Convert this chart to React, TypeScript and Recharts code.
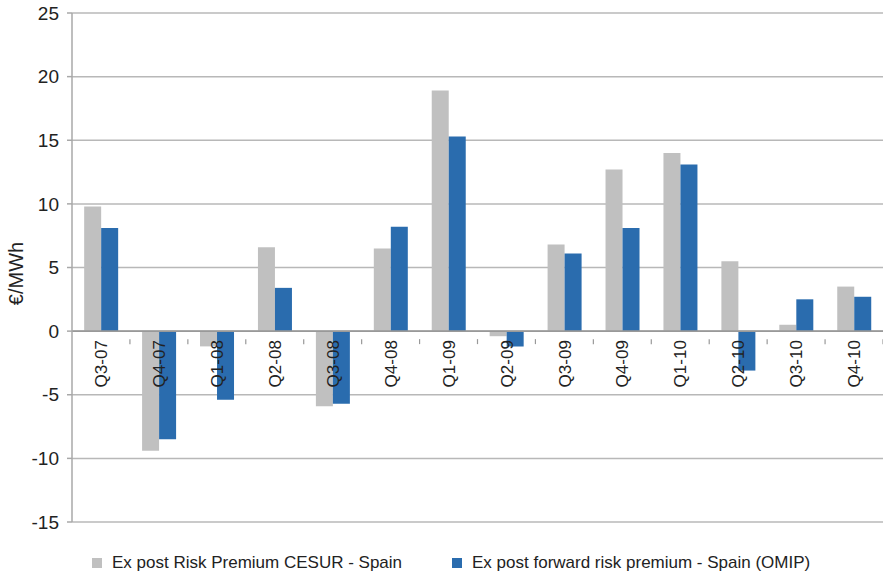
import {
  Bar,
  BarChart,
  CartesianGrid,
  LabelList,
  Legend,
  ReferenceLine,
  XAxis,
  YAxis
} from "recharts";

const quarters = [
  "Q3-07", "Q4-07", "Q1-08", "Q2-08", "Q3-08", "Q4-08", "Q1-09",
  "Q2-09", "Q3-09", "Q4-09", "Q1-10", "Q2-10", "Q3-10", "Q4-10"
];
const cesur = [9.8, -9.4, -1.2, 6.6, -5.9, 6.5, 18.9, -0.4, 6.8, 12.7, 14.0, 5.5, 0.5, 3.5];
const omip = [8.1, -8.5, -5.4, 3.4, -5.7, 8.2, 15.3, -1.2, 6.1, 8.1, 13.1, -3.1, 2.5, 2.7];
const yTicks = [-15, -10, -5, 0, 5, 10, 15, 20, 25];

const seriesNames = {
  cesur: "Ex post Risk Premium CESUR - Spain",
  omip: "Ex post forward risk premium - Spain (OMIP)"
};

const data = quarters.map((q, i) => ({ q, cesur: cesur[i], omip: omip[i] }));

const W = 883;
const H = 577;
const TOP = 13;
const BOTTOM = 55;
const LEFT = 72;
const PLOT_H = H - TOP - BOTTOM;
const PLOT_W = W - LEFT;
const Y_MIN = yTicks[0];
const Y_MAX = yTicks[yTicks.length - 1];
// distance from the bottom of the plot up to the zero line
const ZERO_UP = (PLOT_H * (0 - Y_MIN)) / (Y_MAX - Y_MIN);
const BAND = PLOT_W / quarters.length;

const FONT = "'Liberation Sans', Arial, Helvetica, sans-serif";
const GRAY = "#c0c0c0";
const BLUE = "#2a6cae";

// small tick marks under the zero line, between categories
function BoundaryTick(props: any) {
  const { x, y } = props;
  const zy = y - ZERO_UP;
  return (
    <line x1={x + BAND / 2} x2={x + BAND / 2} y1={zy} y2={zy + 5} stroke="#999" strokeWidth={1.2} />
  );
}

// quarter names, drawn over the bars just under the zero line
function QuarterLabel(props: any) {
  const { x, y, height, index, value } = props;
  const top = Math.min(y, y + height);
  const bottom = Math.max(y, y + height);
  const zy = omip[index] >= 0 ? bottom : top;
  const ty = zy + 9;
  return (
    <text
      x={x}
      y={ty}
      transform={`rotate(-90, ${x}, ${ty})`}
      textAnchor="end"
      dy="0.35em"
      fill="#222"
      fontSize={17}
      fontFamily={FONT}
    >
      {value}
    </text>
  );
}

function LegendBox() {
  const items = [
    { name: seriesNames.cesur, color: GRAY },
    { name: seriesNames.omip, color: BLUE }
  ];
  return (
    <div style={{ display: "flex", alignItems: "center", paddingLeft: 92, height: 20 }}>
      {items.map((it, i) => (
        <div key={i} style={{ display: "flex", alignItems: "center", marginRight: 50 }}>
          <span style={{ width: 10, height: 10, background: it.color, display: "inline-block", marginRight: 10 }} />
          <span style={{ fontSize: 17, fontFamily: FONT, color: "#222" }}>{it.name}</span>
        </div>
      ))}
    </div>
  );
}

export default function App() {
  return (
    <div style={{ position: "absolute", left: 0, top: 0, width: W, height: H, background: "#fff" }}>
      <BarChart
        width={W}
        height={H}
        data={data}
        margin={{ top: TOP, right: 0, left: 0, bottom: 4 }}
        barCategoryGap="21%"
        barGap={0}
      >
        <CartesianGrid vertical={false} stroke="#b8b8b8" strokeWidth={1.5} />
        <XAxis
          dataKey="q"
          height={31}
          axisLine={false}
          tickLine={false}
          interval={0}
          tick={<BoundaryTick />}
        />
        <YAxis
          width={LEFT}
          domain={[Y_MIN, Y_MAX]}
          ticks={yTicks}
          interval={0}
          stroke="#a8a8a8"
          strokeWidth={1.5}
          tickSize={5}
          tickMargin={8}
          tick={{ fill: "#222", fontSize: 19, fontFamily: FONT }}
          label={{
            value: "€/MWh",
            angle: -90,
            position: "center",
            dx: -20,
            dy: 6,
            style: { fill: "#222", fontSize: 20, fontFamily: FONT }
          }}
        />
        <ReferenceLine y={0} stroke="#999" strokeWidth={1.8} />
        <Legend verticalAlign="bottom" content={() => <LegendBox />} />
        <Bar dataKey="cesur" name={seriesNames.cesur} fill={GRAY} isAnimationActive={false} />
        <Bar dataKey="omip" name={seriesNames.omip} fill={BLUE} isAnimationActive={false}>
          <LabelList dataKey="q" content={<QuarterLabel />} />
        </Bar>
      </BarChart>
    </div>
  );
}
